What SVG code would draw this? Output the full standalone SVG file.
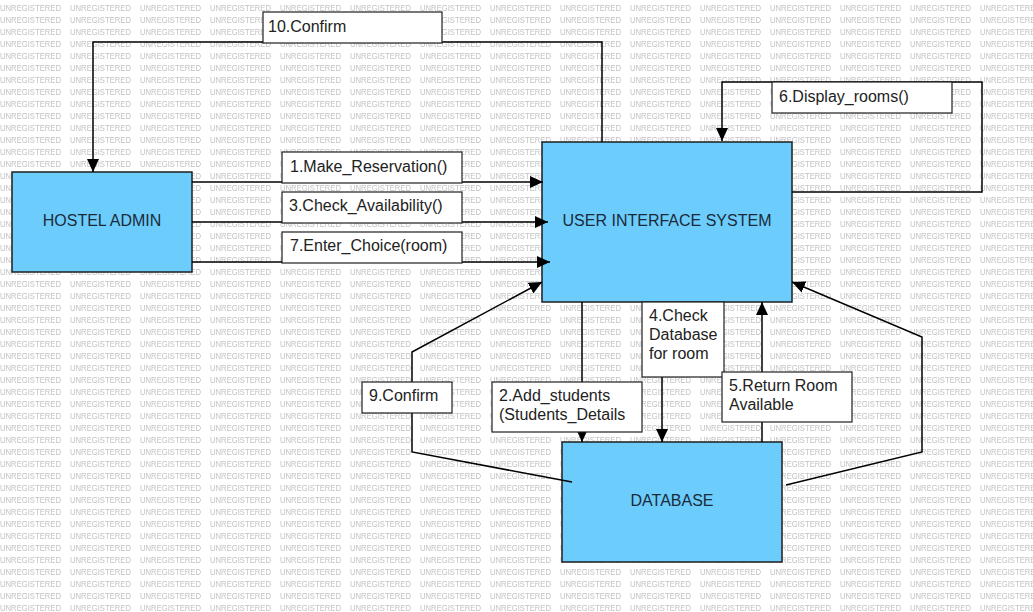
<svg xmlns="http://www.w3.org/2000/svg" width="1033" height="612" viewBox="0 0 1033 612">
<style>
.wm{font-family:"Liberation Sans",Arial,sans-serif;font-size:8.5px;fill:#c2c2c2}
.node rect{fill:#6ccdfd;stroke:#1e1e1e;stroke-width:1.5}
.node text{font-family:"Liberation Sans",Arial,sans-serif;font-size:16px;fill:#1b2a38;text-anchor:middle}
.edge{fill:none;stroke:#000;stroke-width:1.5;marker-end:url(#arr)}
.lbl rect{fill:#fff;stroke:#1e1e1e;stroke-width:1.2}
.lbl text{font-family:"Liberation Sans",Arial,sans-serif;font-size:16px;fill:#222}
</style>
<defs>
<pattern id="wm" patternUnits="userSpaceOnUse" x="0" y="0" width="70" height="12">
<text class="wm" x="0" y="11" textLength="61" lengthAdjust="spacingAndGlyphs">UNREGISTERED</text>
</pattern>
<marker id="arr" markerUnits="userSpaceOnUse" markerWidth="14" markerHeight="12" refX="13" refY="6" orient="auto">
<path d="M0,0 L13,6 L0,12 z" fill="#000"/>
</marker>
</defs>
<rect width="1033" height="612" fill="#fff"/>
<rect width="1033" height="612" fill="url(#wm)"/>

<g id="hostel-admin" class="node">
<rect x="12" y="172" width="180" height="100"/>
<text x="102" y="226">HOSTEL ADMIN</text>
</g>
<g id="user-interface-system" class="node">
<rect x="542" y="142" width="250" height="160"/>
<text x="667" y="226">USER INTERFACE SYSTEM</text>
</g>
<g id="database" class="node">
<rect x="562" y="442" width="220" height="120"/>
<text x="672" y="506">DATABASE</text>
</g>

<g id="connectors">
<polyline class="edge" points="602,142 602,42 93,42 93,172"/>
<polyline class="edge" points="192,182 543,182"/>
<polyline class="edge" points="192,222 548,222"/>
<polyline class="edge" points="192,262 550,262"/>
<polyline class="edge" points="792,192 982,192 982,82 722,82 722,141"/>
<polyline class="edge" points="572,482 412,452 412,352 542,282"/>
<polyline class="edge" points="582,302 582,442"/>
<polyline class="edge" points="662,302 662,442"/>
<polyline class="edge" points="762,442 762,302"/>
<polyline class="edge" points="786,485 922,452 922,337 792,282"/>

<g class="lbl">
<rect x="263" y="12" width="179" height="31"/>
<text x="268" y="31.5">10.Confirm</text>
</g>
<g class="lbl">
<rect x="282" y="152" width="180" height="31"/>
<text x="290" y="171.5">1.Make_Reservation()</text>
</g>
<g class="lbl">
<rect x="282" y="192" width="180" height="31"/>
<text x="289" y="211">3.Check_Availability()</text>
</g>
<g class="lbl">
<rect x="282" y="232" width="180" height="31"/>
<text x="290" y="251">7.Enter_Choice(room)</text>
</g>
<g class="lbl">
<rect x="772" y="82" width="180" height="31"/>
<text x="779" y="101.5">6.Display_rooms()</text>
</g>
<g class="lbl">
<rect x="642" y="302" width="82" height="75"/>
<text x="649" y="320.5">4.Check</text>
<text x="649" y="339.5">Database</text>
<text x="649" y="358.5">for room</text>
</g>
<g class="lbl">
<rect x="362" y="382" width="90" height="31"/>
<text x="369" y="400.5">9.Confirm</text>
</g>
<g class="lbl">
<rect x="492" y="382" width="150" height="50"/>
<text x="499" y="400.5">2.Add_students</text>
<text x="499" y="419.5">(Students_Details</text>
</g>
<g class="lbl">
<rect x="722" y="372" width="130" height="50"/>
<text x="729" y="390.5">5.Return Room</text>
<text x="729" y="409.5">Available</text>
</g>
</g>
</svg>
